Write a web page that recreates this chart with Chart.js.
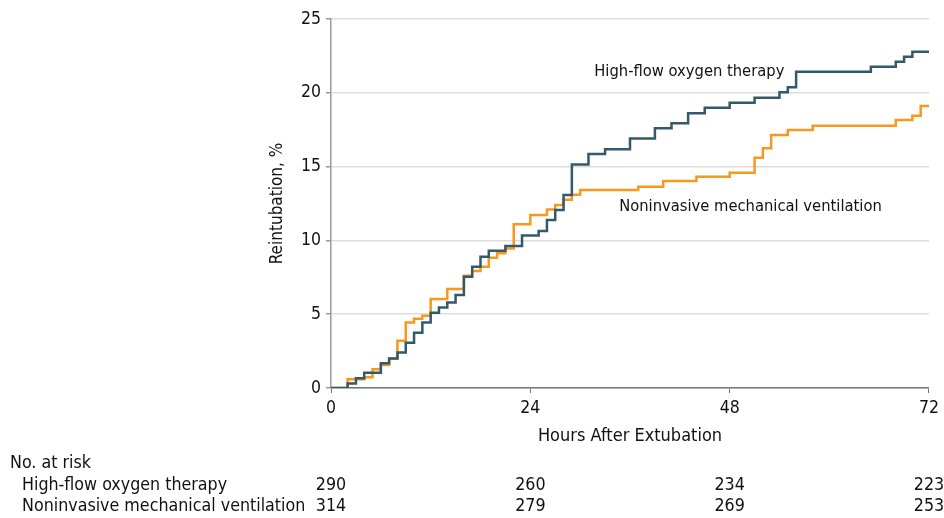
<!DOCTYPE html>
<html>
<head>
<meta charset="utf-8">
<script src="https://cdn.jsdelivr.net/npm/chart.js@4/dist/chart.umd.min.js"></script>
<style>
  html, body { margin: 0; padding: 0; background: #fff; }
  #wrap { width: 944px; height: 518px; position: relative; }
</style>
</head>
<body>
<div id="wrap"><canvas id="kmChart"></canvas></div>
<script>
/* Reintubation cumulative incidence */
const FONT = '"Liberation Sans Narrow", "DejaVu Sans Condensed", "Liberation Sans", sans-serif';

const hfoHours = [0, 2, 3, 4, 6, 7, 8, 9, 10, 11, 12, 13, 14, 15, 16, 17, 18, 19, 21, 23, 25, 26, 27, 28, 29, 31, 33, 36, 39, 41, 43, 45, 48, 51, 54, 55, 56, 65, 68, 69, 70, 72];
const hfoValues = [0, 0.3, 0.66, 1.04, 1.67, 2.0, 2.4, 3.07, 3.75, 4.43, 5.1, 5.46, 5.8, 6.3, 7.54, 8.22, 8.9, 9.3, 9.62, 10.33, 10.64, 11.38, 12.06, 13.08, 15.15, 15.85, 16.17, 16.91, 17.59, 17.93, 18.61, 18.99, 19.33, 19.67, 20.03, 20.37, 21.43, 21.77, 22.1, 22.44, 22.78, 22.78];

const nivHours = [0, 2, 4, 5, 6, 7, 8, 9, 10, 11, 12, 14, 16, 17, 18, 19, 20, 21, 22, 24, 26, 27, 28, 29, 30, 37, 40, 44, 48, 51, 52, 53, 55, 58, 68, 70, 71, 72];
const nivValues = [0, 0.6, 0.72, 1.27, 1.56, 2.0, 3.2, 4.43, 4.7, 4.9, 6.03, 6.7, 7.61, 7.93, 8.22, 8.83, 9.13, 9.45, 11.1, 11.72, 12.1, 12.4, 12.75, 13.1, 13.41, 13.64, 14.02, 14.32, 14.59, 15.6, 16.24, 17.14, 17.48, 17.77, 18.16, 18.45, 19.1, 19.1];

const riskTimes = [0, 24, 48, 72];
const riskHFO = [290, 260, 234, 223];
const riskNIV = [314, 279, 269, 253];
const riskLabels = ['High-flow oxygen therapy', 'Noninvasive mechanical ventilation'];

const toPoints = (xs, ys) => xs.map((x, i) => ({ x, y: ys[i] }));

const extras = {
  id: 'extras',
  afterDraw(chart) {
    const { ctx, scales: { x, y } } = chart;
    ctx.save();
    ctx.fillStyle = '#111';
    ctx.textBaseline = 'middle';
    ctx.textAlign = 'left';
    // series labels
    ctx.font = '16.4px ' + FONT;
    ctx.fillText(riskLabels[0], x.getPixelForValue(31.7), y.getPixelForValue(21.4));
    ctx.fillText(riskLabels[1], x.getPixelForValue(34.7), y.getPixelForValue(12.25));
    // number at risk
    ctx.font = '17.7px ' + FONT;
    ctx.fillText('No. at risk', 10, 463);
    ctx.fillText(riskLabels[0], 22, 485);
    ctx.fillText(riskLabels[1], 22, 506);
    ctx.textAlign = 'center';
    riskTimes.forEach((t, i) => {
      const px = x.getPixelForValue(t);
      ctx.fillText(String(riskHFO[i]), px, 485);
      ctx.fillText(String(riskNIV[i]), px, 506);
    });
    ctx.restore();
  }
};

new Chart(document.getElementById('kmChart'), {
  type: 'line',
  data: {
    datasets: [
      { label: riskLabels[0], data: toPoints(hfoHours, hfoValues), borderColor: '#335a6b', borderWidth: 2.5, stepped: true, pointRadius: 0, fill: false },
      { label: riskLabels[1], data: toPoints(nivHours, nivValues), borderColor: '#f7981f', borderWidth: 2.5, stepped: true, pointRadius: 0, fill: false }
    ]
  },
  options: {
    responsive: true,
    maintainAspectRatio: false,
    animation: false,
    layout: { padding: { left: 262, right: 15, top: 19, bottom: 70 } },
    plugins: { legend: { display: false }, tooltip: { enabled: false } },
    scales: {
      x: {
        type: 'linear', min: 0, max: 72,
        afterFit(scale) { scale.height = 60; },
        afterBuildTicks(scale) { scale.ticks = riskTimes.map(v => ({ value: v })); },
        ticks: { color: '#111', font: { family: FONT, size: 17.5 }, padding: 5, maxRotation: 0 },
        grid: { drawOnChartArea: false, tickLength: 5, color: '#777' },
        border: { color: '#777', width: 1.5 },
        title: { display: true, text: 'Hours After Extubation', color: '#111', font: { family: FONT, size: 18 }, padding: { top: 0, bottom: 1 } }
      },
      y: {
        min: 0, max: 25,
        afterFit(scale) { scale.width = 69; },
        ticks: { stepSize: 5, color: '#111', font: { family: FONT, size: 17.5 }, padding: 5 },
        grid: { color: '#dddddd', lineWidth: 1.5, tickLength: 5, tickColor: '#999' },
        border: { color: '#999', width: 1.5 },
        title: { display: true, text: 'Reintubation, %', color: '#111', font: { family: FONT, size: 17 }, padding: { top: 5, bottom: 0 } }
      }
    }
  },
  plugins: [extras]
});
</script>
</body>
</html>
